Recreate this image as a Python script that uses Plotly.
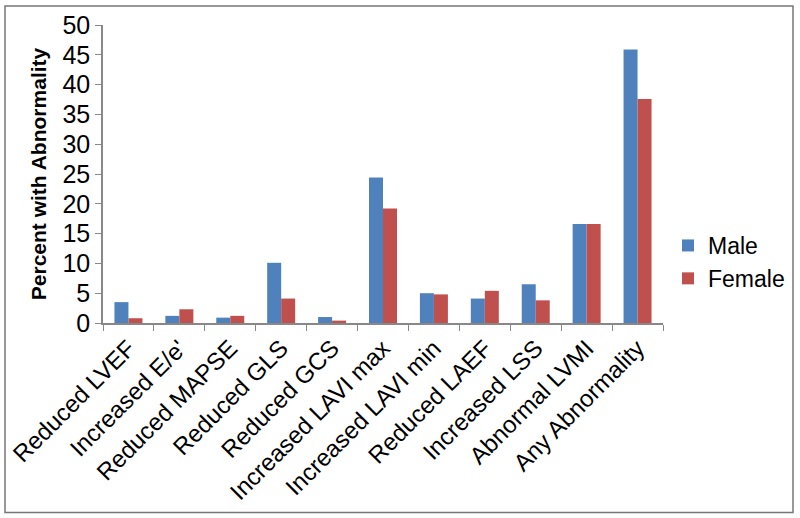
import plotly.graph_objects as go

categories = ["Reduced LVEF", "Increased E/e'", "Reduced MAPSE", "Reduced GLS", "Reduced GCS",
              "Increased LAVI max", "Increased LAVI min", "Reduced LAEF", "Increased LSS",
              "Abnormal LVMI", "Any Abnormality"]
male = [3.5, 1.2, 0.9, 10.1, 1.0, 24.4, 5.0, 4.1, 6.5, 16.6, 45.9]
female = [0.8, 2.3, 1.2, 4.1, 0.4, 19.2, 4.8, 5.4, 3.8, 16.6, 37.6]
y_ticks = [0, 5, 10, 15, 20, 25, 30, 35, 40, 45, 50]

FONT = "Liberation Sans, Arial, sans-serif"

fig = go.Figure()
fig.add_trace(go.Bar(x=categories, y=male, name="Male", marker=dict(color="#4F81BD", line=dict(width=0))))
fig.add_trace(go.Bar(x=categories, y=female, name="Female", marker=dict(color="#C0504D", line=dict(width=0))))

L, R, T, B = 103, 137, 25, 195
pw, ph = 800 - L - R, 518 - T - B

fig.update_layout(
    width=800, height=518,
    margin=dict(l=L, r=R, t=T, b=B, autoexpand=False),
    paper_bgcolor="white", plot_bgcolor="white",
    barmode="group", bargap=0.45, bargroupgap=0,
    font=dict(family=FONT, color="black", size=23),
    showlegend=True,
    legend=dict(x=(668 - L) / pw, y=(323 - 262) / ph, xanchor="left", yanchor="middle",
                font=dict(size=23, family=FONT), tracegroupgap=12, itemwidth=30),
    xaxis=dict(tickangle=-45, showline=True, linecolor="#888888", linewidth=1.5, automargin=False,
               ticks="outside", tickson="boundaries", ticklen=6, tickcolor="#888888",
               showgrid=False, tickfont=dict(size=24, family=FONT)),
    yaxis=dict(range=[0, 50], tickvals=y_ticks, showline=True, linecolor="#888888", linewidth=1.5,
               automargin=False,
               ticks="outside", ticklen=6, tickcolor="#888888", showgrid=False, zeroline=False,
               tickfont=dict(size=25, family=FONT),
               title=dict(text="<b>Percent with Abnormality</b>", font=dict(size=21, family=FONT), standoff=10)),
    shapes=[dict(type="rect", xref="paper", yref="paper",
                 x0=(5 - L) / pw, x1=(793 - L) / pw,
                 y0=(323 - 512.5) / ph, y1=(323 - 6) / ph,
                 line=dict(color="#777777", width=1.5), fillcolor="rgba(0,0,0,0)", layer="below")],
)

fig.write_html("out.html", config={"displayModeBar": False},
               post_script="document.body.style.margin='0';document.body.style.padding='0';")
